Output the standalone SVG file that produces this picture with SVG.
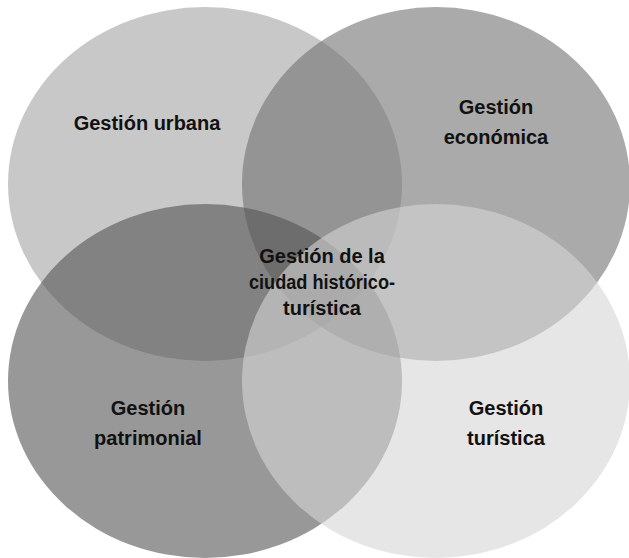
<svg xmlns="http://www.w3.org/2000/svg" width="629" height="558" viewBox="0 0 629 558">
<style>
.c{opacity:0.6}
.t{font-family:"Liberation Sans",Arial,sans-serif;font-weight:bold;font-size:20px;fill:#111;text-anchor:middle}
</style>
<rect width="629" height="558" fill="#ffffff"/>
<g id="urbana"><ellipse class="c" cx="205" cy="184" rx="197" ry="177" fill="#a3a3a3"/></g>
<g id="economica"><ellipse class="c" cx="436" cy="184" rx="194" ry="177" fill="#717171"/></g>
<g id="patrimonial"><ellipse class="c" cx="205" cy="381" rx="197" ry="177" fill="#535353"/></g>
<g id="turistica"><ellipse class="c" cx="436" cy="381" rx="194" ry="177" fill="#d5d5d5"/></g>
<g id="labels">
<text class="t" x="147" y="130">Gestión urbana</text>
<text class="t" x="496" y="114">Gestión</text>
<text class="t" x="496" y="144">económica</text>
<text class="t" x="322" y="263">Gestión de la</text>
<text class="t" x="322" y="289" textLength="146" lengthAdjust="spacingAndGlyphs">ciudad histórico-</text>
<text class="t" x="322" y="315">turística</text>
<text class="t" x="148" y="415">Gestión</text>
<text class="t" x="148" y="445">patrimonial</text>
<text class="t" x="506" y="415">Gestión</text>
<text class="t" x="506" y="445">turística</text>
</g>
</svg>
